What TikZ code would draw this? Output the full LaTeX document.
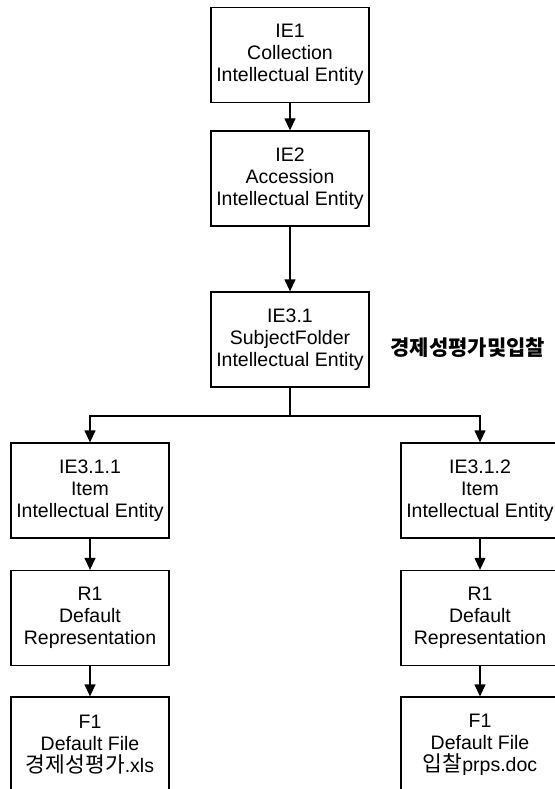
\documentclass[tikz,border=0pt]{standalone}
\usepackage{fontspec}
\setmainfont{Liberation Sans}
\newfontfamily\krfont{Noto Sans CJK KR}
\usetikzlibrary{positioning, arrows.meta}

\newcommand{\hangul}[1]{{\krfont\fontsize{21.5}{22}\selectfont #1}}

\tikzset{
    entity/.style={draw, line width=1.3pt, minimum width=158pt, minimum height=95pt,
        align=center, font=\fontsize{19.5}{22}\selectfont, inner sep=0pt},
    arr/.style={line width=1.3pt, -{Triangle[width=11pt,length=12pt]}}
}

\begin{document}
\begin{tikzpicture}[x=1pt, y=-1pt]
        \useasboundingbox (0,0) rectangle (554,789);

        \node[entity] (ie1) at (290,55) {IE1\\Collection\\Intellectual Entity};
        \node[entity] (ie2) at (290,178.5) {IE2\\Accession\\Intellectual Entity};
        \node[entity] (ie31) at (290,339.5) {IE3.1\\SubjectFolder\\Intellectual Entity};
        \node[font=\krfont\bfseries\fontsize{21}{22}\selectfont, anchor=west] (folder) at (387,348) {경제성평가및입찰};

        \node[entity] (ie311) at (90,490.5) {IE3.1.1\\Item\\Intellectual Entity};
        \node[entity] (rep1) at (90,618) {R1\\Default\\Representation};
        \node[entity] (file1) at (90,744.5) {F1\\Default File\\\hangul{경제성평가}.xls};

        \node[entity] (ie312) at (480,490.5) {IE3.1.2\\Item\\Intellectual Entity};
        \node[entity] (rep2) at (480,618) {R1\\Default\\Representation};
        \node[entity] (file2) at (480,744.5) {F1\\Default File\\\hangul{입찰}prps.doc};

        \coordinate (split) at (290,416);

        \draw[arr] (ie1) -- (ie2);
        \draw[arr] (ie2) -- (ie31);
        \draw[line width=1.3pt] (ie31) -- (split);
        \draw[arr] (split) -| (ie311);
        \draw[arr] (split) -| (ie312);

        \draw[arr] (ie311) -- (rep1);
        \draw[arr] (rep1) -- (file1);
        \draw[arr] (ie312) -- (rep2);
        \draw[arr] (rep2) -- (file2);
    \end{tikzpicture}
\end{document}
